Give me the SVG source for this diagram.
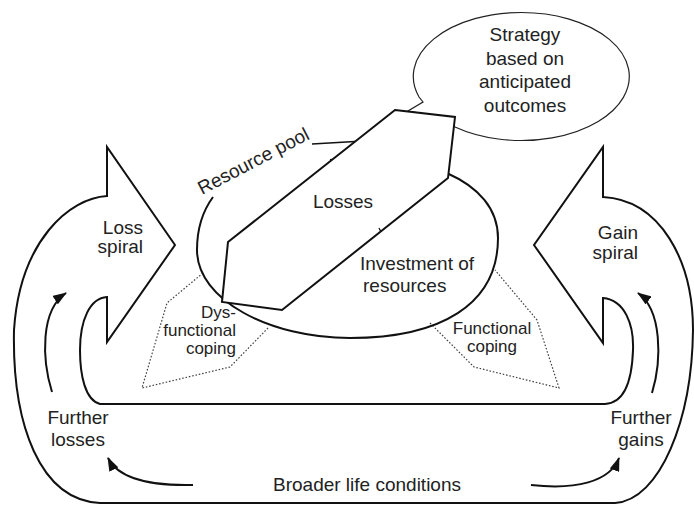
<svg xmlns="http://www.w3.org/2000/svg" width="694" height="506" viewBox="0 0 694 506">
<defs>
<style>
.ln{fill:none;stroke:#111;stroke-width:2;stroke-linejoin:miter}
.thin{fill:#fff;stroke:#222;stroke-width:1.2}
.dot{fill:none;stroke:#444;stroke-width:1.2;stroke-dasharray:1.6 1.8}
.t{font-family:"Liberation Sans",Arial,sans-serif;font-size:19px;fill:#222}
.s{font-size:17px}
.c{text-anchor:middle}
.e{text-anchor:end}
</style>
<marker id="ah" markerWidth="14" markerHeight="10" refX="13" refY="5" orient="auto" markerUnits="userSpaceOnUse"><path d="M0,0 L14,5 L0,10 Z" fill="#111"/></marker>
</defs>
<rect width="694" height="506" fill="#fff"/>
<g id="spirals">
<path class="ln" d="M175,245 L107,147 L107,196 C70,198 20,240 14,330 C12,425 40,500 100,503 L615,503 C660,500 692,420 693,330 C693,260 660,200 603,197 L603,147 L534,245 L603,343 L603,298 C625,300 634,325 633,350 C632,380 625,403 605,404 L100,404 C85,400 80,375 80,350 C80,320 90,298 107,297 L107,342 Z"/>
</g>
<g id="connectors">
<path class="ln" d="M52,392 C42,360 40,310 66,293" marker-end="url(#ah)"/>
<path class="ln" d="M652,393 C662,360 662,310 638,293" marker-end="url(#ah)"/>
<path class="ln" d="M193,485 C150,486 118,478 108,458" marker-end="url(#ah)"/>
<path class="ln" d="M531,485 C575,490 610,482 619,458" marker-end="url(#ah)"/>
</g>
<g id="dysfunctional-coping">
<path class="dot" d="M203,273 L167,303 L142,388 L230,367 L268,328"/>
<text class="t s e" x="236" y="318">Dys-</text>
<text class="t s e" x="236" y="336">functional</text>
<text class="t s e" x="236" y="354">coping</text>
</g>
<g id="functional-coping">
<path class="dot" d="M430,323 L474,367 L559,388 L537,320 L495,270"/>
<text class="t s c" x="492" y="334">Functional</text>
<text class="t s c" x="492" y="352">coping</text>
</g>
<g id="resource-pool">
<path class="ln" d="M213,197 C202,212 197,230 197,250 C197,300 270,338 350,338 C440,338 498,305 498,238 C498,180 420,150 330,160"/>
<text class="t" transform="translate(202,195) rotate(-27.5)">Resource pool</text>
</g>
<g id="strategy">
<path class="thin" d="M430,115 L408,111 L423,102 L419,97 A108,64 0 1 1 455,127 Z"/>
<text class="t c" x="525" y="41">Strategy</text>
<text class="t c" x="525" y="65">based on</text>
<text class="t c" x="525" y="88">anticipated</text>
<text class="t c" x="525" y="112">outcomes</text>
</g>
<g id="losses">
<path class="ln" style="fill:#fff" d="M395,110 L455,117 L448,178 L282,310 L222,302 L228,242 Z"/>
<line class="ln" style="stroke-width:1.5" x1="312" y1="144" x2="355" y2="141.5"/>
<line class="ln" style="stroke-width:1.2" x1="379" y1="228" x2="381" y2="232"/>
<text class="t c" x="343" y="208">Losses</text>
</g>
<g id="investment">
<text class="t" x="360" y="270">Investment of</text>
<text class="t" x="363" y="292">resources</text>
</g>
<g id="loss-spiral">
<text class="t e" x="143" y="234">Loss</text>
<text class="t e" x="143" y="253">spiral</text>
</g>
<g id="gain-spiral">
<text class="t e" x="638" y="239">Gain</text>
<text class="t e" x="638" y="259">spiral</text>
</g>
<g id="further-losses">
<text class="t c" x="78" y="424">Further</text>
<text class="t c" x="78" y="446">losses</text>
</g>
<g id="further-gains">
<text class="t c" x="641" y="424">Further</text>
<text class="t c" x="641" y="446">gains</text>
</g>
<g id="broader">
<text class="t c" x="367" y="491">Broader life conditions</text>
</g>
</svg>
